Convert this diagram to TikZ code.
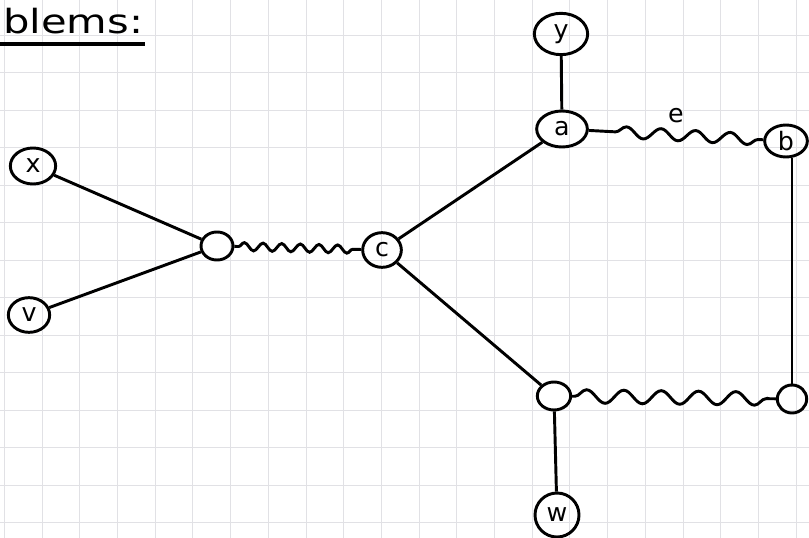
\documentclass[tikz,border=0pt]{standalone}
\usepackage{fontspec}
\setmainfont{DejaVu Sans}
\usetikzlibrary{shapes.geometric,decorations.pathmorphing}

\tikzset{
  ink/.style={line width=2.2pt, black},
  vtx/.style={ellipse, draw, ink, inner sep=0pt, font=\fontsize{19}{22}\selectfont},
  hole/.style={ellipse, draw, ink, inner sep=0pt},
  wave/.style={ink, decorate, decoration={snake, #1}},
  gridline/.style={line width=0.5pt, draw=blue!6!gray!22}
}

\begin{document}
\begin{tikzpicture}[x=0.75pt, y=-0.75pt]
  % paper
  \fill[white] (0,0) rectangle (809,538);
  \useasboundingbox (0,0) rectangle (809,538);

  % squared paper
  \foreach \k in {0,...,21} {
    \draw[gridline] ({4.3+37.7*\k},0) -- ({4.3+37.7*\k},538);
  }
  \foreach \k in {0,...,14} {
    \draw[gridline] (0,{-2.5+37.5*\k}) -- (809,{-2.5+37.5*\k});
  }

  % heading
  \node[anchor=base west, inner sep=0pt, font=\fontsize{25}{30}\selectfont]
    (title) at (3,34) {\scalebox{1.25}[1]{blems:}};
  \coordinate (ulA) at (0,44);
  \coordinate (ulB) at (145,44);
  \draw[line width=2.4pt] (ulA) -- (ulB);

  % vertices
  \node[vtx, minimum width=40pt, minimum height=31pt] (y) at (561,34) {y};
  \node[vtx, minimum width=38pt, minimum height=27pt] (a) at (562,129) {a};
  \node[vtx, minimum width=32pt, minimum height=24pt] (b) at (786,141) {b};
  \node[vtx, minimum width=34pt, minimum height=27pt] (x) at (33,166) {x};
  \node[vtx, minimum width=31pt, minimum height=26pt] (v) at (29,315) {v};
  \node[vtx, minimum width=29pt, minimum height=26pt] (c) at (382,250) {c};
  \node[vtx, minimum width=33pt, minimum height=33pt] (w) at (557,515) {w};
  \node[hole, minimum width=24pt, minimum height=21pt] (p) at (217,246) {};
  \node[hole, minimum width=25pt, minimum height=21pt] (q) at (554,396) {};
  \node[hole, minimum width=22pt, minimum height=21pt] (r) at (792,399) {};

  % straight edges
  \draw[ink] (y) -- (a);
  \draw[ink] (x) -- (p);
  \draw[ink] (v) -- (p);
  \draw[ink] (c) -- (a);
  \draw[ink] (c) -- (q);
  \draw[ink] (q) -- (w);
  \draw[ink] (b.south -| r.north) -- (r.north);

  % wavy edges
  \draw[wave={amplitude=4.2pt, segment length=26pt, pre length=20pt, post length=2pt}]
    (a) -- node[above=5pt, font=\fontsize{19}{22}\selectfont] (elabel) {e} (b);
  \draw[wave={amplitude=3pt, segment length=14pt, pre length=3pt, post length=4pt}]
    (p) -- (c);
  \draw[wave={amplitude=5pt, segment length=28pt, pre length=2pt, post length=3pt}]
    (q) -- (r);
\end{tikzpicture}
\end{document}
